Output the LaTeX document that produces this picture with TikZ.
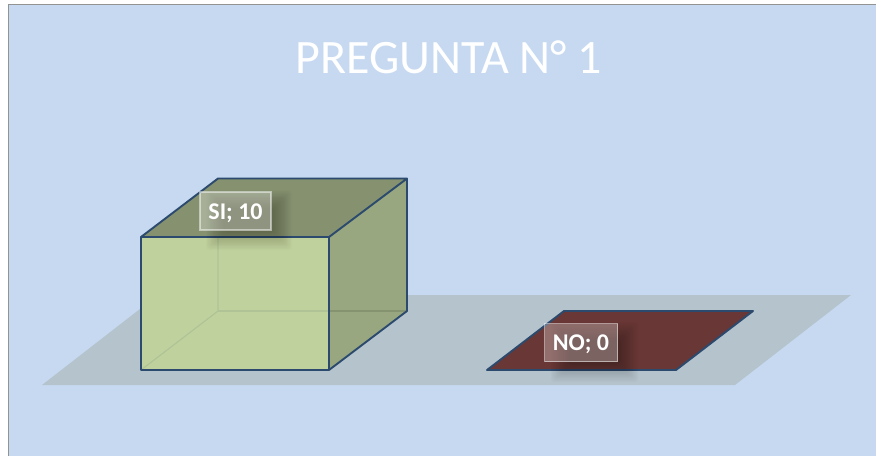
\documentclass[tikz,border=0pt]{standalone}
\usepackage{fontspec}
\setmainfont{Carlito}
\definecolor{bgblue}{HTML}{C6D9F1}
\definecolor{floorc}{HTML}{B5C3CD}
\definecolor{edge}{HTML}{2B4A6E}
\definecolor{frontc}{HTML}{BFD29D}
\definecolor{sidec}{HTML}{98A77F}
\definecolor{topc}{HTML}{86926F}
\definecolor{innerc}{HTML}{AFC397}
\definecolor{flatc}{HTML}{693735}
\tikzset{
  edgeline/.style={draw=edge,line width=1.9pt,line join=round},
  innerline/.style={draw=innerc,line width=1.2pt},
  datalabel/.style={draw=white,draw opacity=.5,fill=white,fill opacity=.28,text opacity=1,text=white,
    font=\bfseries\fontsize{24}{27}\selectfont,inner sep=0pt,line width=1.2pt},
  titletext/.style={text=white,font=\fontsize{48}{56}\selectfont,inner sep=0pt}
}
\newcommand{\softshadow}[4]{%
  \foreach \k in {0,1,...,15}{
    \fill[black,opacity=.014,rounded corners=3pt]
      ({#1-10+\k*1.2},{#2-10+\k*1.2}) rectangle ({#3+10-\k*1.2},{#4+10-\k*1.2});
  }}
\begin{document}
\begin{tikzpicture}[x=1pt,y=-1pt]
\useasboundingbox (0,0) rectangle (876,456);
\fill[white] (0,0) rectangle (876,456);
\fill[bgblue] (9,5) rectangle (876,456);
\draw[gray!85,line width=1.4pt] (8.5,456) -- (8.5,4.5) -- (876,4.5);
% floor
\fill[floorc] (42,385) -- (735,385) -- (851,295) -- (158,295) -- cycle;
% side and top faces
\fill[sidec] (329,237) -- (407,178.5) -- (407,311) -- (329,370) -- cycle;
\fill[topc] (141,237) -- (218,178.5) -- (407,178.5) -- (329,237) -- cycle;
% front face
\fill[frontc] (141,237) rectangle (329,370);
\draw[innerline] (141,370) -- (218,311) -- (218,237);
\draw[innerline] (218,311) -- (329,311);
\draw[draw=sidec!88!black,line width=1.2pt] (329,311) -- (407,311);
\draw[edgeline] (141,237) rectangle (329,370);
\draw[edgeline] (141,237) -- (218,178.5) -- (407,178.5) -- (329,237);
\draw[edgeline] (407,178.5) -- (407,311) -- (329,370);
% flat parallelogram
\fill[flatc] (487,370) -- (564,311) -- (753,311) -- (676,370) -- cycle;
\draw[edgeline] (487,370) -- (564,311) -- (753,311) -- (676,370) -- cycle;
% label shadows
\softshadow{216}{200}{282}{240}
\softshadow{561}{332}{628}{372}
% labels
\node[datalabel,minimum width=71pt,minimum height=38pt] (si) at (235.5,211) {\raisebox{-8pt}[0pt][0pt]{SI; 10}};
\node[datalabel,minimum width=73pt,minimum height=38pt] (no) at (581,342.5) {\raisebox{-8pt}[0pt][0pt]{NO; 0}};
\node[titletext] (title) at (449,57) {PREGUNTA N° 1};
\end{tikzpicture}
\end{document}
